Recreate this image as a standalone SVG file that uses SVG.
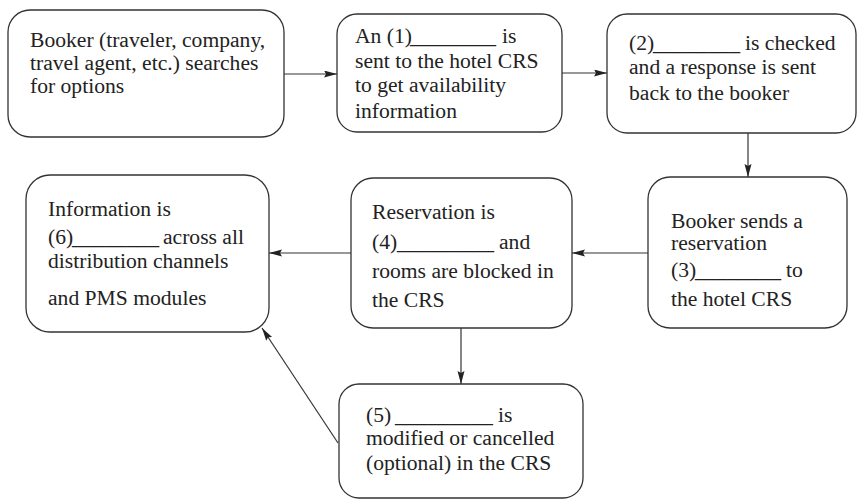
<svg xmlns="http://www.w3.org/2000/svg" width="858" height="499" viewBox="0 0 858 499">
<style>
.box{fill:#fff;stroke:#333;stroke-width:1.3}
.t{font-family:"Liberation Serif","Times New Roman",serif;font-size:21.6px;fill:#222}
.c{stroke:#333;stroke-width:1.2;fill:none;marker-end:url(#ah)}
</style>
<defs>
<marker id="ah" markerUnits="userSpaceOnUse" markerWidth="14" markerHeight="8" refX="13" refY="3.5" orient="auto">
<path d="M0,0 L13,3.5 L0,7 L2,3.5 z" fill="#222"/>
</marker>
</defs>
<rect width="858" height="499" fill="#fff"/>
<g id="connectors">
<line class="c" x1="284" y1="74" x2="337" y2="74"/>
<line class="c" x1="562" y1="73" x2="607" y2="73"/>
<line class="c" x1="748" y1="133" x2="748" y2="177"/>
<line class="c" x1="648" y1="253" x2="572" y2="253"/>
<line class="c" x1="351" y1="253" x2="269" y2="253"/>
<line class="c" x1="461" y1="328" x2="461" y2="384"/>
<line class="c" x1="338" y1="443" x2="262" y2="328"/>
</g>
<g id="node1">
<rect class="box" x="8" y="10" width="276" height="127" rx="22"/>
<text class="t" x="30" y="47">Booker (traveler, company,</text>
<text class="t" x="30" y="70">travel agent, etc.) searches</text>
<text class="t" x="30" y="93">for options</text>
</g>
<g id="node2">
<rect class="box" x="337" y="14" width="225" height="118" rx="20"/>
<text class="t" x="355" y="43">An (1)</text>
<text class="t" x="410" y="43" textLength="86" lengthAdjust="spacingAndGlyphs">________</text>
<text class="t" x="502" y="43">is</text>
<text class="t" x="355" y="68">sent to the hotel CRS</text>
<text class="t" x="355" y="92">to get availability</text>
<text class="t" x="355" y="118">information</text>
</g>
<g id="node3">
<rect class="box" x="607" y="14" width="249" height="119" rx="20"/>
<text class="t" x="629" y="50">(2)</text>
<text class="t" x="653" y="50" textLength="87" lengthAdjust="spacingAndGlyphs">________</text>
<text class="t" x="745" y="50">is checked</text>
<text class="t" x="629" y="74">and a response is sent</text>
<text class="t" x="629" y="100">back to the booker</text>
</g>
<g id="node4">
<rect class="box" x="648" y="177" width="199" height="151" rx="22"/>
<text class="t" x="671" y="228">Booker sends a</text>
<text class="t" x="671" y="250">reservation</text>
<text class="t" x="671" y="277">(3)</text>
<text class="t" x="695" y="277" textLength="86" lengthAdjust="spacingAndGlyphs">________</text>
<text class="t" x="786" y="277">to</text>
<text class="t" x="671" y="306">the hotel CRS</text>
</g>
<g id="node5">
<rect class="box" x="351" y="178" width="221" height="150" rx="22"/>
<text class="t" x="372" y="219">Reservation is</text>
<text class="t" x="372" y="249">(4)</text>
<text class="t" x="397" y="249" textLength="97" lengthAdjust="spacingAndGlyphs">_________</text>
<text class="t" x="499" y="249">and</text>
<text class="t" x="372" y="278">rooms are blocked in</text>
<text class="t" x="372" y="307">the CRS</text>
</g>
<g id="node6">
<rect class="box" x="26" y="175" width="243" height="157" rx="24"/>
<text class="t" x="48" y="216">Information is</text>
<text class="t" x="48" y="244">(6)</text>
<text class="t" x="72" y="244" textLength="87" lengthAdjust="spacingAndGlyphs">________</text>
<text class="t" x="163" y="244">across all</text>
<text class="t" x="48" y="268">distribution channels</text>
<text class="t" x="48" y="305">and PMS modules</text>
</g>
<g id="node7">
<rect class="box" x="339" y="384" width="244" height="114" rx="20"/>
<text class="t" x="366" y="422">(5)</text>
<text class="t" x="395" y="422" textLength="98" lengthAdjust="spacingAndGlyphs">_________</text>
<text class="t" x="498" y="422">is</text>
<text class="t" x="366" y="445">modified or cancelled</text>
<text class="t" x="366" y="470">(optional) in the CRS</text>
</g>
</svg>
